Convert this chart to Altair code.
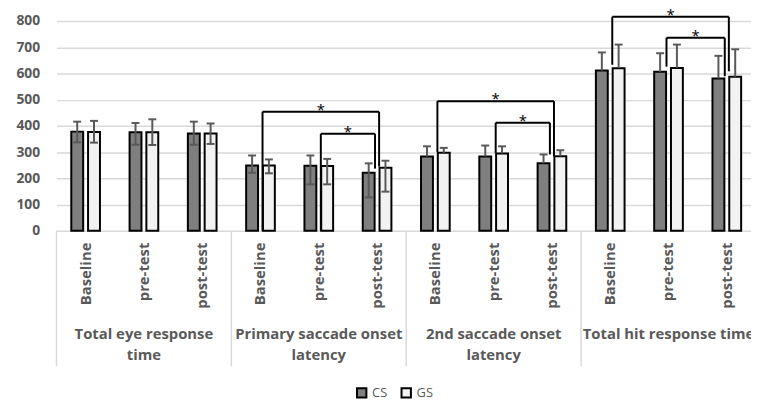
import altair as alt
import pandas as pd

# ---------------- data ----------------
groups = ["Total eye response time", "Primary saccade onset latency",
          "2nd saccade onset latency", "Total hit response time"]
group_label_text = ["Total eye response\ntime", "Primary saccade onset\nlatency",
                    "2nd saccade onset\nlatency", "Total hit response time"]
phases = ["Baseline", "pre-test", "post-test"]
series = ["CS", "GS"]

cs_mean = [378, 376, 371, 249, 248, 221, 283, 283, 257, 611, 606, 581]
cs_err_low = [337, 328, 328, 221, 177, 127, 283, 283, 257, 611, 606, 581]
cs_err_high = [416, 411, 416, 287, 287, 257, 322, 325, 291, 680, 677, 667]

gs_mean = [377, 376, 371, 249, 247, 240, 297, 295, 284, 620, 621, 587]
gs_err_low = [336, 327, 331, 219, 177, 149, 297, 295, 284, 620, 621, 587]
gs_err_high = [419, 425, 409, 272, 274, 267, 316, 322, 307, 710, 710, 692]

y_ticks = [0, 100, 200, 300, 400, 500, 600, 700, 800]

# significance brackets
bracket_group = [1, 1, 2, 2, 3, 3]
bracket_from = [0, 1, 0, 1, 0, 1]          # phase index
bracket_to = [2, 2, 2, 2, 2, 2]
bracket_from_side = ["GS", "GS", "GS", "GS", "GS", "CS"]
bracket_to_side = ["GS", "CS", "GS", "CS", "GS", "CS"]
bracket_height = [454, 370, 494, 412, 816, 736]
bracket_from_foot = [0, 0, 300, 297, 633, 626]
bracket_to_foot = [245, 237, 284, 291, 608, 589]
bracket_label = ["*", "*", "*", "*", "*", "*"]

# ---------------- styling constants ----------------
BAR_CENTER = 0.144
BAR_HALF = 0.102
CAP = 0.068
LEG = 0.035
X_DOMAIN = [0, 11.915]
FONT = "Open Sans"
GREY_TXT = "#595959"
GRID = "#d9d9d9"

rows = []
for g in range(4):
    for p in range(3):
        i = g * 3 + p
        for s, m, lo, hi in (("CS", cs_mean, cs_err_low, cs_err_high),
                             ("GS", gs_mean, gs_err_low, gs_err_high)):
            sign = -1 if s == "CS" else 1
            c = i + 0.5 + sign * BAR_CENTER
            rows.append(dict(series=s, group=groups[g], phase=phases[p],
                             value=m[i], lo=lo[i], hi=hi[i], xc=c,
                             x0=c - BAR_HALF, x1=c + BAR_HALF,
                             cl=c - CAP, cr=c + CAP))
df = pd.DataFrame(rows)

br = []
for k in range(len(bracket_group)):
    g = bracket_group[k]
    xl = g * 3 + bracket_from[k] + 0.5 + (LEG if bracket_from_side[k] == "GS" else -LEG)
    xr = g * 3 + bracket_to[k] + 0.5 + (LEG if bracket_to_side[k] == "GS" else -LEG)
    br.append(dict(xl=xl, xr=xr, xm=(xl + xr) / 2, h=bracket_height[k],
                   fl=bracket_from_foot[k], fr=bracket_to_foot[k], lab=bracket_label[k]))
dbr = pd.DataFrame(br)

cat_df = pd.DataFrame([dict(x=g * 3 + p + 0.5, label=phases[p]) for g in range(4) for p in range(3)])
grp_df = pd.DataFrame([dict(x=g * 3 + 1.5, label=group_label_text[g]) for g in range(4)])
sep_df = pd.DataFrame(dict(x=[0, 3, 6, 9, 12]))

xs = alt.Scale(domain=X_DOMAIN, nice=False, zero=False, padding=0)
ys = alt.Scale(domain=[0, 800], nice=False, padding=0)

yaxis = alt.Axis(values=y_ticks, grid=True, gridColor=GRID, gridWidth=1.5,
                 domain=False, ticks=False, labelPadding=17, labelFont=FONT,
                 labelFontWeight="bold", labelFontSize=14, labelColor=GREY_TXT,
                 labelOverlap=False, title=None)


def Y(field):
    return alt.Y(field, scale=ys, axis=yaxis)


def X(field):
    return alt.X(field, scale=xs, axis=None)


bars = alt.Chart(df).mark_bar(stroke="black", strokeWidth=2).encode(
    x=X("x0:Q"),
    x2="x1:Q",
    y=Y("value:Q"),
    y2=alt.datum(0),
    color=alt.Color("series:N",
                    scale=alt.Scale(domain=series, range=["#7f7f7f", "#f2f2f2"]),
                    legend=alt.Legend(orient="none", legendX=302, legendY=369,
                                      direction="horizontal", title=None,
                                      symbolType="square", symbolSize=90,
                                      symbolStrokeColor="black", symbolStrokeWidth=2,
                                      labelFont=FONT, labelFontSize=13,
                                      labelColor=GREY_TXT, columnPadding=9,
                                      labelOffset=4)),
)

err_line = alt.Chart(df).mark_rule(color=GREY_TXT, strokeWidth=2).encode(
    x=X("xc:Q"), y=Y("lo:Q"), y2="hi:Q")
cap_top = alt.Chart(df).mark_rule(color=GREY_TXT, strokeWidth=2).encode(
    x=X("cl:Q"), x2="cr:Q", y=Y("hi:Q"))
cap_bot = alt.Chart(df).transform_filter("datum.lo < datum.value").mark_rule(
    color=GREY_TXT, strokeWidth=2).encode(
    x=X("cl:Q"), x2="cr:Q", y=Y("lo:Q"))

br_top = alt.Chart(dbr).mark_rule(color="black", strokeWidth=2).encode(
    x=X("xl:Q"), x2="xr:Q", y=Y("h:Q"))
br_left = alt.Chart(dbr).mark_rule(color="black", strokeWidth=2).encode(
    x=X("xl:Q"), y=Y("h:Q"), y2="fl:Q")
br_right = alt.Chart(dbr).mark_rule(color="black", strokeWidth=2).encode(
    x=X("xr:Q"), y=Y("h:Q"), y2="fr:Q")
stars = alt.Chart(dbr).mark_text(font=FONT, fontSize=15, color="black",
                                 baseline="alphabetic", dy=3).encode(
    x=X("xm:Q"), y=Y("h:Q"), text="lab:N")

seps = alt.Chart(sep_df).mark_rule(color=GRID, strokeWidth=1.5).encode(
    x=X("x:Q"), y=alt.value(212), y2=alt.value(349))

cat_labels = alt.Chart(cat_df).mark_text(font=FONT, fontSize=15, fontWeight="bold",
                                         color=GREY_TXT, angle=270, align="right",
                                         baseline="middle").encode(
    x=X("x:Q"), y=alt.value(224), text="label:N")

grp_labels = alt.Chart(grp_df).mark_text(font=FONT, fontSize=15, fontWeight="bold",
                                         color=GREY_TXT, align="center", baseline="top",
                                         lineBreak="\n", lineHeight=21.7).encode(
    x=X("x:Q"), y=alt.value(309), text="label:N")

chart = alt.layer(
    bars, seps, err_line, cap_top, cap_bot, br_top, br_left, br_right, stars,
    cat_labels, grp_labels
).properties(
    width=702, height=212,
    autosize=alt.AutoSizeParams(type="none"),
    padding={"left": 49, "top": 11, "right": 0, "bottom": 172},
).configure_view(stroke=None)

chart.save("out.html", embed_options={"renderer": "svg", "actions": False})
